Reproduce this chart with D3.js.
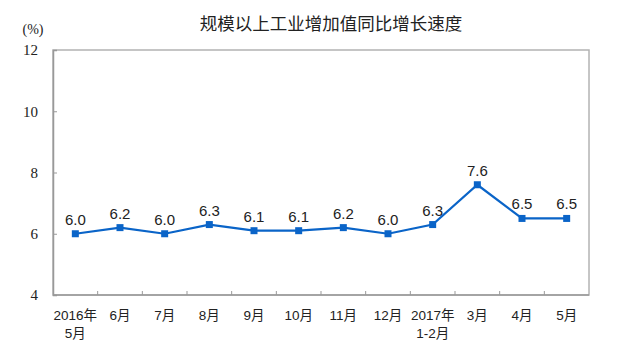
<!DOCTYPE html>
<html>
<head>
<meta charset="utf-8">
<script src="https://cdn.jsdelivr.net/npm/d3@7"></script>
<style>
  html, body { margin: 0; padding: 0; background: #fff; }
  svg { display: block; }
</style>
</head>
<body>
<svg id="chart" width="626" height="344"></svg>
<script>
// Monthly year-on-year growth of industrial value added (%)
const months = [
  ["2016年", "5月"], ["6月"], ["7月"], ["8月"], ["9月"], ["10月"],
  ["11月"], ["12月"], ["2017年", "1-2月"], ["3月"], ["4月"], ["5月"]
];
const growth = [6.0, 6.2, 6.0, 6.3, 6.1, 6.1, 6.2, 6.0, 6.3, 7.6, 6.5, 6.5];
const yTicks = [4, 6, 8, 10, 12];
const title = "规模以上工业增加值同比增长速度";
const unit = "(%)";

const svg = d3.select("#chart");
const plot = { left: 53, right: 589, top: 50, bottom: 295 };

const x = d3.scaleBand()
  .domain(d3.range(months.length))
  .range([plot.left, plot.right])
  .padding(0);
const y = d3.scaleLinear().domain([4, 12]).range([plot.bottom, plot.top]);

const lineColor = "#0a64c8";
const frameColor = "#b3b3b3";
const textColor = "#222";

// Title
svg.append("text")
  .attr("x", 331).attr("y", 30)
  .attr("text-anchor", "middle")
  .attr("font-family", "'Noto Sans CJK SC', sans-serif")
  .attr("font-size", 17.5)
  .attr("fill", textColor)
  .text(title);

// Unit label
svg.append("text")
  .attr("x", 33).attr("y", 34)
  .attr("text-anchor", "middle")
  .attr("font-family", "'Liberation Serif', serif")
  .attr("font-size", 14)
  .attr("fill", textColor)
  .text(unit);

// Plot frame
svg.append("rect")
  .attr("x", plot.left).attr("y", plot.top)
  .attr("width", plot.right - plot.left)
  .attr("height", plot.bottom - plot.top)
  .attr("fill", "none")
  .attr("stroke", frameColor)
  .attr("stroke-width", 1.5);

// Y axis (ticks pointing inside)
const yAxis = d3.axisLeft(y).tickValues(yTicks).tickSize(-4).tickPadding(15).tickFormat(d3.format("d"));
const gy = svg.append("g").attr("transform", `translate(${plot.left},0)`).call(yAxis);
gy.select(".domain").attr("stroke", "#999").attr("stroke-width", 1.5);
gy.selectAll(".tick line").attr("stroke", "#999");
gy.selectAll(".tick text")
  .attr("font-family", "'Liberation Serif', serif")
  .attr("font-size", 15)
  .attr("fill", textColor);

// X axis: tick marks at category boundaries
const gx = svg.append("g").attr("transform", `translate(0,${plot.bottom})`);
gx.append("line")
  .attr("x1", plot.left).attr("x2", plot.right)
  .attr("y1", 0).attr("y2", 0)
  .attr("stroke", "#999").attr("stroke-width", 1.5);
gx.selectAll("line.tick")
  .data(d3.range(1, months.length))
  .join("line")
  .attr("class", "tick")
  .attr("x1", d => x(d)).attr("x2", d => x(d))
  .attr("y1", 0).attr("y2", -4)
  .attr("stroke", "#999");

const labels = gx.selectAll("text.cat")
  .data(months)
  .join("text")
  .attr("class", "cat")
  .attr("text-anchor", "middle")
  .attr("font-family", "'Liberation Sans', 'Noto Sans CJK SC', sans-serif")
  .attr("font-size", 13.5)
  .attr("fill", textColor);
labels.each(function(d, i) {
  const t = d3.select(this);
  d.forEach((line, k) => {
    t.append("tspan")
      .attr("x", x(i) + x.bandwidth() / 2)
      .attr("y", 25 + k * 17.5)
      .text(line);
  });
});

// Series line
const line = d3.line()
  .x((d, i) => x(i) + x.bandwidth() / 2)
  .y(d => y(d));

svg.append("path")
  .datum(growth)
  .attr("d", line)
  .attr("fill", "none")
  .attr("stroke", lineColor)
  .attr("stroke-width", 2.2);

// Square markers
const ms = 7;
svg.selectAll("rect.marker")
  .data(growth)
  .join("rect")
  .attr("class", "marker")
  .attr("x", (d, i) => x(i) + x.bandwidth() / 2 - ms / 2)
  .attr("y", d => y(d) - ms / 2)
  .attr("width", ms).attr("height", ms)
  .attr("fill", lineColor);

// Value labels
svg.selectAll("text.val")
  .data(growth)
  .join("text")
  .attr("class", "val")
  .attr("x", (d, i) => x(i) + x.bandwidth() / 2)
  .attr("y", d => y(d) - 9)
  .attr("text-anchor", "middle")
  .attr("font-family", "'Liberation Sans', Arial, sans-serif")
  .attr("font-size", 15)
  .attr("fill", textColor)
  .text(d => d.toFixed(1));
</script>
</body>
</html>
